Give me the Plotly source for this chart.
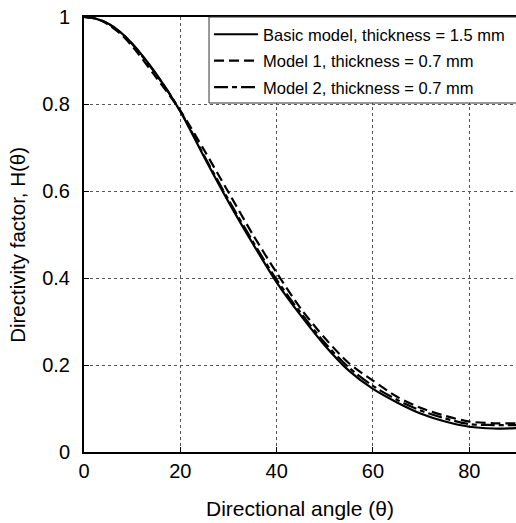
import plotly.graph_objects as go

# Directional angle (degrees)
angle = [0, 2.5, 5, 7.5, 10, 15, 20, 25, 30, 35, 40, 45, 50, 55, 60, 65, 70, 75, 80, 85, 90]

# Directivity factor H(theta) for each model
basic_model = [1.000, 0.996, 0.985, 0.966, 0.939, 0.869, 0.783, 0.677, 0.575, 0.480, 0.390,
               0.314, 0.245, 0.187, 0.145, 0.114, 0.088, 0.070, 0.058, 0.054, 0.055]
model_1 = [1.000, 0.996, 0.983, 0.962, 0.933, 0.861, 0.785, 0.693, 0.597, 0.501, 0.412,
           0.330, 0.262, 0.204, 0.164, 0.127, 0.101, 0.083, 0.070, 0.066, 0.066]
model_2 = [1.000, 0.996, 0.985, 0.965, 0.938, 0.868, 0.784, 0.680, 0.580, 0.485, 0.396,
           0.320, 0.251, 0.194, 0.152, 0.120, 0.095, 0.077, 0.064, 0.062, 0.062]

series = [
    ("Basic model, thickness = 1.5 mm", basic_model, "solid"),
    ("Model 1, thickness = 0.7 mm", model_1, "10px,5px"),
    ("Model 2, thickness = 0.7 mm", model_2, "14px,4px,5px,4px"),
]

FONT = "Liberation Sans, Arial, sans-serif"

fig = go.Figure()
for i, (name, vals, dash) in enumerate(series):
    fig.add_trace(go.Scatter(
        x=angle, y=vals, name=name, mode="lines",
        line=dict(color="black", width=2.2, dash=dash, shape="spline", smoothing=0.8),
        legendgroup=f"g{i}",
    ))

axis_common = dict(
    showline=True, linecolor="black", linewidth=2,
    ticks="inside", ticklen=5, tickcolor="black", tickwidth=1,
    showgrid=True, gridcolor="#555", griddash="dot", gridwidth=1,
    zeroline=False,
    tickfont=dict(family=FONT, size=20, color="black"),
)

fig.update_xaxes(
    range=[0, 89.7], tickvals=[0, 20, 40, 60, 80], mirror=True,
    title=dict(text="Directional angle (θ)", font=dict(family=FONT, size=21, color="black"), standoff=20),
    ticklabelstandoff=0,
    **axis_common,
)
fig.update_yaxes(
    range=[0, 1], tickvals=[0, 0.2, 0.4, 0.6, 0.8, 1], ticktext=["0", "0.2", "0.4", "0.6", "0.8", "1"],
    mirror=False,
    ticklabelstandoff=8,
    **axis_common,
)

# Y-axis title placed as a rotated annotation beside the tick labels
fig.add_annotation(
    text="Directivity factor, H(θ)", textangle=-90,
    xref="paper", yref="paper", x=-0.153, y=0.476,
    xanchor="center", yanchor="middle", showarrow=False,
    font=dict(family=FONT, size=20.5, color="black"),
)

# Legend frame: white box running past the right edge of the plot
fig.add_shape(
    type="rect", xref="paper", yref="paper",
    x0=0.2894, x1=1.05, y0=0.8023, y1=1.0,
    fillcolor="white", line=dict(color="#333", width=1), layer="above",
)

fig.update_layout(
    width=516, height=523,
    margin=dict(l=84, r=0, t=17, b=71, autoexpand=False),
    plot_bgcolor="white", paper_bgcolor="white",
    font=dict(family=FONT, color="black"),
    legend=dict(
        x=0.2894, y=1, xanchor="left", yanchor="top",
        bgcolor="rgba(0,0,0,0)", borderwidth=0,
        font=dict(family=FONT, size=16.5, color="black"),
        tracegroupgap=2, itemwidth=44,
    ),
)

fig.write_html("out.html")
